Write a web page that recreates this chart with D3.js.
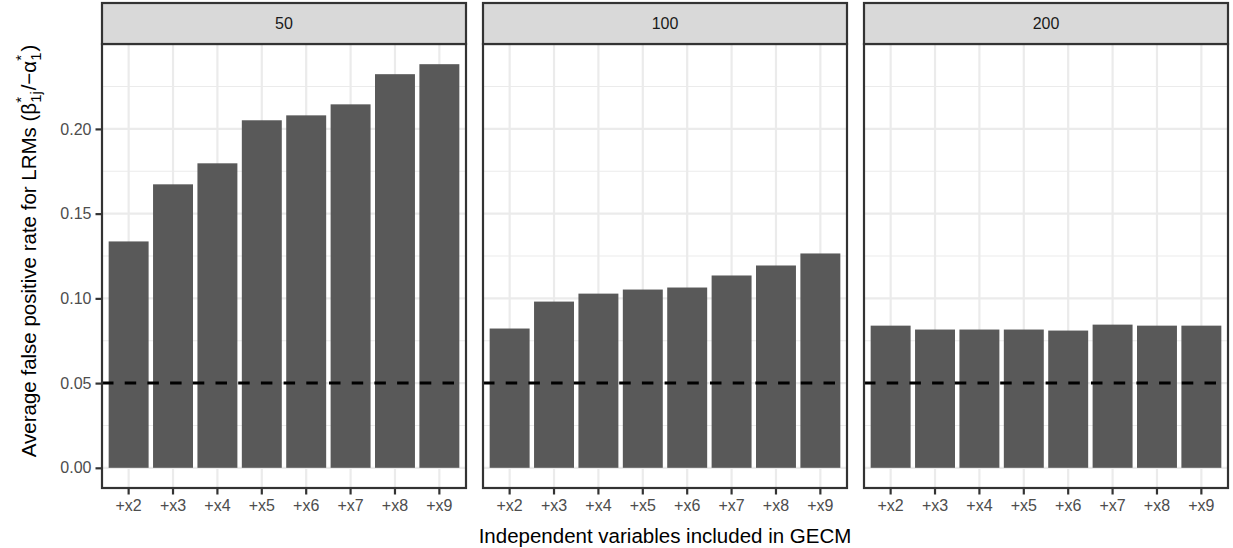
<!DOCTYPE html>
<html>
<head>
<meta charset="utf-8">
<script src="https://cdn.jsdelivr.net/npm/d3@7"></script>
<style>
  body { margin: 0; background: #fff; }
  text { font-family: "Liberation Sans", Arial, sans-serif; }
</style>
</head>
<body>
<div id="chart"></div>
<script>
// data
var categories = ["+x2", "+x3", "+x4", "+x5", "+x6", "+x7", "+x8", "+x9"];
var panelLabels = ["50", "100", "200"];
var rate50  = [0.1336, 0.1673, 0.1797, 0.2051, 0.2080, 0.2145, 0.2323, 0.2382];
var rate100 = [0.0822, 0.0981, 0.1028, 0.1052, 0.1064, 0.1135, 0.1194, 0.1265];
var rate200 = [0.0839, 0.0816, 0.0816, 0.0816, 0.0810, 0.0845, 0.0839, 0.0839];
var yTicks = [0, 0.05, 0.10, 0.15, 0.20];
var yMinor = [0.025, 0.075, 0.125, 0.175, 0.225];
var refLine = 0.05;

var series = [rate50, rate100, rate200];

var width = 1233, height = 548;
var panelLeft = [102, 483, 864];
var panelWidth = 364;
var stripTop = 3, stripBottom = 44, panelBottom = 488;
var tickFont = 16, titleFont = 20.5;

var svg = d3.select("#chart").append("svg")
    .attr("width", width)
    .attr("height", height);

var maxVal = d3.max(series, function(s) { return d3.max(s); });
var pad = 0.05 * maxVal;
var y = d3.scaleLinear()
    .domain([-pad, maxVal + pad])
    .range([panelBottom, stripBottom]);

for (var p = 0; p < 3; p++) {
	var x0 = panelLeft[p];
	var x = d3.scaleBand()
	    .domain(categories)
	    .range([x0, x0 + panelWidth])
	    .paddingInner(0.1)
	    .paddingOuter(0.15);
	var g = svg.append("g");

	// panel background + grid
	g.append("rect")
	    .attr("x", x0).attr("y", stripBottom)
	    .attr("width", panelWidth).attr("height", panelBottom - stripBottom)
	    .attr("fill", "#fff");
	g.selectAll(".minor").data(yMinor).enter().append("line")
	    .attr("x1", x0).attr("x2", x0 + panelWidth)
	    .attr("y1", function(d) { return y(d); }).attr("y2", function(d) { return y(d); })
	    .attr("stroke", "#EBEBEB").attr("stroke-width", 1.1);
	g.selectAll(".major").data(yTicks).enter().append("line")
	    .attr("x1", x0).attr("x2", x0 + panelWidth)
	    .attr("y1", function(d) { return y(d); }).attr("y2", function(d) { return y(d); })
	    .attr("stroke", "#EBEBEB").attr("stroke-width", 2.2);
	g.selectAll(".vgrid").data(categories).enter().append("line")
	    .attr("x1", function(d) { return x(d) + x.bandwidth() / 2; })
	    .attr("x2", function(d) { return x(d) + x.bandwidth() / 2; })
	    .attr("y1", stripBottom).attr("y2", panelBottom)
	    .attr("stroke", "#EBEBEB").attr("stroke-width", 2.2);

	// bars
	var vals = series[p];
	g.selectAll(".bar").data(categories).enter().append("rect")
	    .attr("x", function(d) { return x(d); })
	    .attr("width", x.bandwidth())
	    .attr("y", function(d, i) { return y(vals[i]); })
	    .attr("height", function(d, i) { return y(0) - y(vals[i]); })
	    .attr("fill", "#595959");

	// dashed reference line
	g.append("line")
	    .attr("x1", x0).attr("x2", x0 + panelWidth)
	    .attr("y1", y(refLine)).attr("y2", y(refLine))
	    .attr("stroke", "#000").attr("stroke-width", 3)
	    .attr("stroke-dasharray", "11.5,11.2");

	// border
	g.append("rect")
	    .attr("x", x0).attr("y", stripBottom)
	    .attr("width", panelWidth).attr("height", panelBottom - stripBottom)
	    .attr("fill", "none").attr("stroke", "#333").attr("stroke-width", 2.2);

	// strip
	g.append("rect")
	    .attr("x", x0).attr("y", stripTop)
	    .attr("width", panelWidth).attr("height", stripBottom - stripTop)
	    .attr("fill", "#D9D9D9").attr("stroke", "#333").attr("stroke-width", 2.2);
	g.append("text")
	    .attr("x", x0 + panelWidth / 2).attr("y", (stripTop + stripBottom) / 2)
	    .attr("dy", "0.35em")
	    .attr("text-anchor", "middle")
	    .style("font-size", tickFont + "px").attr("fill", "#1A1A1A")
	    .text(panelLabels[p]);

	// x axis
	var xAxis = g.append("g")
	    .attr("transform", "translate(0," + panelBottom + ")")
	    .call(d3.axisBottom(x).tickSize(6.5).tickPadding(5));
	xAxis.select(".domain").remove();
	xAxis.selectAll(".tick line").attr("stroke", "#333").attr("stroke-width", 2.2);
	xAxis.selectAll(".tick text")
	    .style("font-size", tickFont + "px").attr("fill", "#4D4D4D")
	    .style("font-family", "'Liberation Sans', Arial, sans-serif");

	if (p == 0) {
		var yAxis = g.append("g")
		    .attr("transform", "translate(" + x0 + ",0)")
		    .call(d3.axisLeft(y).tickValues(yTicks).tickSize(6.5).tickPadding(4)
		        .tickFormat(d3.format(".2f")));
		yAxis.select(".domain").remove();
		yAxis.selectAll(".tick line").attr("stroke", "#333").attr("stroke-width", 2.2);
		yAxis.selectAll(".tick text")
		    .style("font-size", tickFont + "px").attr("fill", "#4D4D4D")
		    .style("font-family", "'Liberation Sans', Arial, sans-serif");
	}
}

// x title
svg.append("text")
    .attr("x", (panelLeft[0] + panelLeft[2] + panelWidth) / 2)
    .attr("y", 543)
    .attr("text-anchor", "middle")
    .style("font-size", titleFont + "px").attr("fill", "#000")
    .text("Independent variables included in GECM");

// y title with plotmath-like sub/superscripts
var small = 15;
var yt = svg.append("text")
    .attr("transform", "translate(36,251) rotate(-90)")
    .attr("text-anchor", "middle")
    .style("font-size", titleFont + "px").attr("fill", "#000");
yt.append("tspan").text("Average false positive rate for LRMs (\u03B2");
var sub1 = yt.append("tspan").style("font-size", small + "px").attr("dy", 5).text("1j");
var w1 = sub1.node().getComputedTextLength();
yt.append("tspan").style("font-size", small + "px").attr("dx", -w1).attr("dy", -15).text("*");
yt.append("tspan").attr("dx", w1 - 5).attr("dy", 10).text("/\u2212\u03B1");
var sub2 = yt.append("tspan").style("font-size", small + "px").attr("dy", 5).text("1");
var w2 = sub2.node().getComputedTextLength();
yt.append("tspan").style("font-size", small + "px").attr("dx", -w2).attr("dy", -15).text("*");
yt.append("tspan").attr("dx", w2 - 5).attr("dy", 10).text(")");
</script>
</body>
</html>
